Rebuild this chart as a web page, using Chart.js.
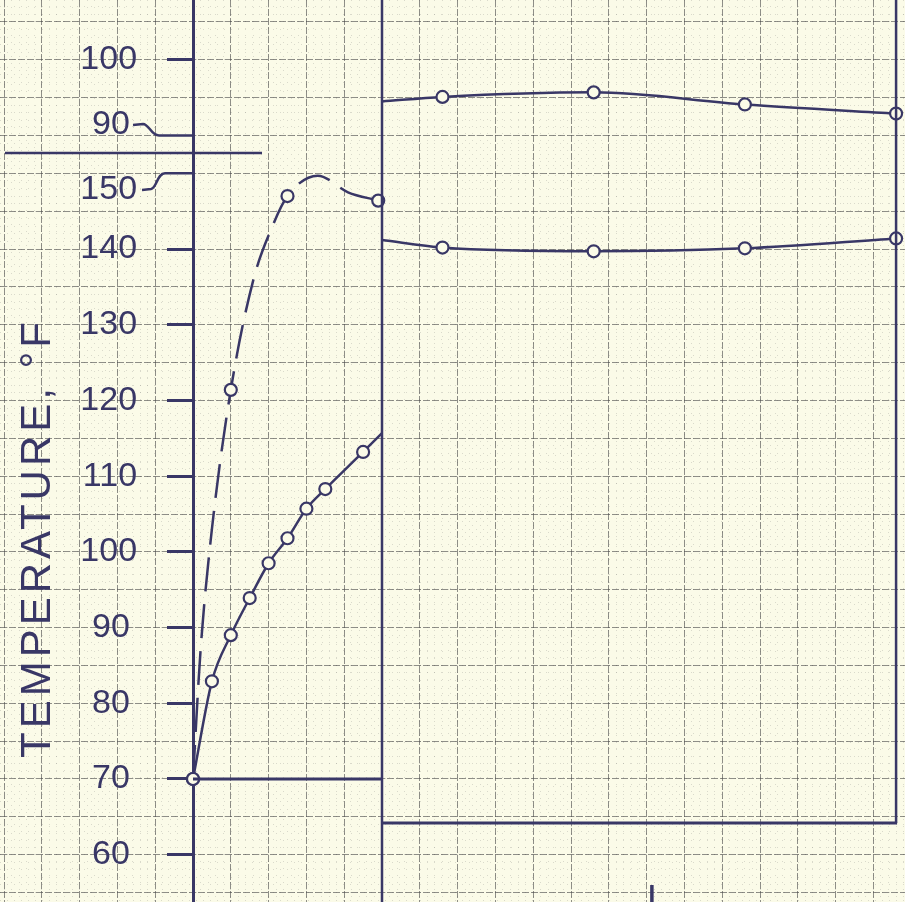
<!DOCTYPE html>
<html>
<head>
<meta charset="utf-8">
<script src="https://cdn.jsdelivr.net/npm/chart.js@4.4.1/dist/chart.umd.min.js"></script>
<style>
  html, body { margin: 0; padding: 0; background: #fbfbe8; }
  #wrap { width: 905px; height: 902px; position: relative; }
</style>
</head>
<body>
<div id="wrap"><canvas id="chart"></canvas></div>
<script>
// Values. x = minutes from start (no x labels on the sheet), y = deg F
const risingTimes  = [0, 5, 10, 15, 20, 25, 30, 35, 45, 50];
const risingTemps  = [70, 82.9, 89.0, 93.9, 98.5, 101.8, 105.7, 108.3, 113.2, 115.7];
const risingMarked = [1, 1, 1, 1, 1, 1, 1, 1, 1, 0];

const dashedTimes  = [0, 2, 5, 10, 16, 21, 25, 33, 41, 49];
const dashedTemps  = [70, 87, 103, 121.4, 136, 143, 147, 149.7, 147.5, 146.4];
const dashedMarked = [1, 0, 0, 1, 0, 0, 1, 0, 0, 1];

const laterTimes  = [50, 66, 106, 146, 186];
const upperTemps  = [94.5, 95.1, 95.7, 94.1, 92.9];   // on the broken 90-100 scale
const lowerTemps  = [141.2, 140.2, 139.7, 140.1, 141.4];
const laterMarked = [0, 1, 1, 1, 1];

// tick labels of the temperature axis
const lowerTickLabels = [60, 70, 80, 90, 100, 110, 120, 130, 140, 150];
const upperTickLabels = [90, 100];
const BREAK_OFFSET = 65;   // upper part of the axis sits 65 units above the lower part

const INK = '#393766';
const PAPER = '#fbfbe8';
const XMIN = -51.06, XMAX = 188.36;   // 3.78 px per minute
const YMIN = 53.75, YMAX = 172.9;     // 7.57 px per degree
const PANEL_SPLIT = 50;               // where the pasted right-hand sheet begins
const PANEL_END = 186;
const PANEL_BOTTOM = 64.2;

const steps = (from, to, step) => {
    const out = [];
    for (let v = from; v <= to + 1e-9; v += step) out.push({ value: +v.toFixed(3) });
    return out;
};
const pts = (xs, ys, off = 0) => xs.map((t, i) => ({ x: t, y: ys[i] + off }));
const radii = (marks) => marks.map(m => m ? 6 : 0);

function gridScale(axis, min, max, ticks, color, dash) {
    return {
        type: 'linear', axis, position: axis === 'x' ? 'bottom' : 'left',
        min, max,
        ticks: { display: false },
        grid: { color, lineWidth: 1, drawTicks: false },
        border: { display: false, dash },
        afterBuildTicks: s => { s.ticks = ticks; },
        afterFit: s => {
            if (axis === 'x') s.height = 0; else s.width = 0;
            s.paddingTop = s.paddingBottom = s.paddingLeft = s.paddingRight = 0;
        }
    };
}

// label axes: three-digit and two-digit labels end at slightly different places
const label3 = lowerTickLabels.filter(v => v >= 100).map(v => ({ value: v === 150 ? 147.8 : v, text: String(v) }))
    .concat([{ value: upperTickLabels[1] + BREAK_OFFSET, text: String(upperTickLabels[1]) }]);
const label2 = lowerTickLabels.filter(v => v < 100).map(v => ({ value: v, text: String(v) }))
    .concat([{ value: 156.4, text: String(upperTickLabels[0]) }]);

function labelScale(list, atX) {
    return {
        type: 'linear', axis: 'y', position: { x: atX },
        min: YMIN, max: YMAX,
        ticks: {
            autoSkip: false, padding: 0, color: INK,
            font: { family: 'Liberation Sans', size: 34 },
            callback: (v) => { const f = list.find(l => Math.abs(l.value - v) < 1e-6); return f ? f.text : ''; }
        },
        grid: { drawOnChartArea: false, drawTicks: false },
        border: { display: false },
        afterBuildTicks: s => { s.ticks = list.map(l => ({ value: l.value })); },
        afterFit: s => { s.paddingTop = s.paddingBottom = 0; }
    };
}

const axisTicks = lowerTickLabels.filter(v => v < 150).concat([upperTickLabels[1] + BREAK_OFFSET]);

const paperMarks = {
    id: 'paperMarks',
    afterDatasetsDraw(chart) {
        const { ctx, scales: { x, y } } = chart;
        const ax = x.getPixelForValue(0);
        const line = (x1, y1, x2, y2, w) => {
            ctx.lineWidth = w;
            ctx.beginPath(); ctx.moveTo(x1, y1); ctx.lineTo(x2, y2); ctx.stroke();
        };
        ctx.save();
        ctx.strokeStyle = INK;
        ctx.lineCap = 'butt';
        // 70 F base line of the first panel
        line(ax, y.getPixelForValue(70), x.getPixelForValue(PANEL_SPLIT), y.getPixelForValue(70), 3);
        // scale break
        const yb = y.getPixelForValue(152.7);
        line(ax - 188, yb, ax + 69, yb, 2.5);
        // bracket from "90" label to its tick
        ctx.lineWidth = 2.5;
        let yl = y.getPixelForValue(156.4), yt = y.getPixelForValue(upperTickLabels[0] + BREAK_OFFSET);
        ctx.beginPath();
        ctx.moveTo(ax - 60, yl);
        ctx.lineTo(ax - 50, yl - 1);
        ctx.bezierCurveTo(ax - 44, yl - 1, ax - 42, yt, ax - 34, yt);
        ctx.lineTo(ax, yt);
        ctx.stroke();
        // bracket from "150" label to its tick
        yl = y.getPixelForValue(147.8); yt = y.getPixelForValue(150);
        ctx.beginPath();
        ctx.moveTo(ax - 51, yl);
        ctx.lineTo(ax - 42, yl - 1);
        ctx.bezierCurveTo(ax - 36, yl - 2, ax - 36, yt, ax - 28, yt);
        ctx.lineTo(ax, yt);
        ctx.stroke();
        // the pasted right-hand sheet
        const px = x.getPixelForValue(PANEL_SPLIT), pe = x.getPixelForValue(PANEL_END);
        const pb = y.getPixelForValue(PANEL_BOTTOM);
        line(px, 0, px, chart.height, 2.5);
        line(pe, 0, pe, pb, 2.5);
        line(px, pb, pe + 1, pb, 3);
        // lone tick at the foot of the sheet
        const tx = x.getPixelForValue(121.4);
        line(tx, chart.height - 17, tx, chart.height, 3.5);
        ctx.restore();
    },
    afterDraw(chart) {
        const { ctx } = chart;
        ctx.save();
        ctx.fillStyle = INK;
        ctx.font = '42px "Liberation Sans"';
        ctx.letterSpacing = '4px';
        ctx.translate(50, 538);
        ctx.rotate(-Math.PI / 2);
        ctx.textAlign = 'center';
        ctx.textBaseline = 'alphabetic';
        ctx.fillText('TEMPERATURE, °F', 0, 0);
        ctx.restore();
    }
};

const lineStyle = {
    borderColor: INK, borderWidth: 2.5,
    pointBackgroundColor: PAPER, pointBorderColor: INK, pointBorderWidth: 2.2,
    cubicInterpolationMode: 'monotone', fill: false
};

new Chart(document.getElementById('chart'), {
    type: 'line',
    data: {
        datasets: [
            { ...lineStyle, data: pts(risingTimes, risingTemps), pointRadius: radii(risingMarked) },
            { ...lineStyle, data: pts(dashedTimes, dashedTemps), pointRadius: radii(dashedMarked), borderDash: [34, 13] },
            { ...lineStyle, data: pts(laterTimes, upperTemps, BREAK_OFFSET), pointRadius: radii(laterMarked) },
            { ...lineStyle, data: pts(laterTimes, lowerTemps), pointRadius: radii(laterMarked) }
        ]
    },
    options: {
        responsive: true,
        maintainAspectRatio: false,
        animation: false,
        events: [],
        layout: { padding: 0, autoPadding: false },
        plugins: { legend: { display: false }, tooltip: { enabled: false } },
        scales: {
            xFine: gridScale('x', XMIN, XMAX, steps(-50, 188, 2), 'rgba(90,90,90,0.2)', [1, 6]),
            yFine: gridScale('y', YMIN, YMAX, steps(54, 172, 1), 'rgba(90,90,90,0.2)', [1, 6]),
            x: gridScale('x', XMIN, XMAX, steps(-50, 180, 10), 'rgba(70,70,70,0.6)', [7, 2]),
            y: gridScale('y', YMIN, YMAX, steps(55, 170, 5), 'rgba(70,70,70,0.6)', [7, 2]),
            yLab3: labelScale(label3, -14.8),
            yLab2: labelScale(label2, -16.7),
            yAxis: {
                type: 'linear', axis: 'y', position: { x: 0 },
                min: YMIN, max: YMAX,
                ticks: { display: false },
                grid: {
                    drawOnChartArea: false, drawTicks: true, tickLength: 25, tickWidth: 3,
                    tickColor: INK
                },
                border: { display: true, color: INK, width: 3 },
                afterBuildTicks: s => { s.ticks = axisTicks.map(v => ({ value: v })); },
                afterFit: s => { s.paddingTop = s.paddingBottom = 0; }
            }
        }
    },
    plugins: [paperMarks]
});
</script>
</body>
</html>
